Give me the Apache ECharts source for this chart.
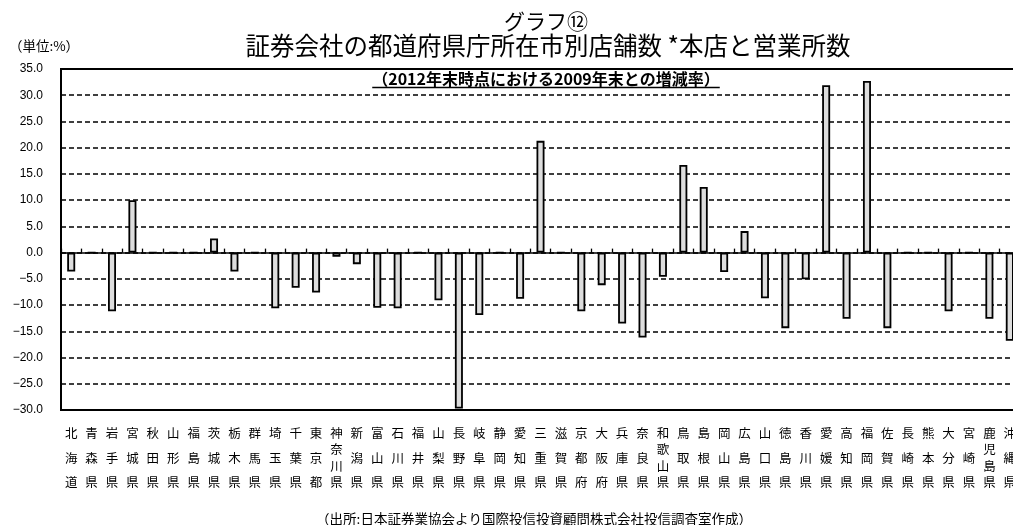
<!DOCTYPE html>
<html>
<head>
<meta charset="utf-8">
<script src="https://cdn.jsdelivr.net/npm/echarts@6/dist/echarts.min.js"></script>
<style>
  html, body { margin: 0; padding: 0; background: #fff; }
  #chart { width: 1013px; height: 525px; }
</style>
</head>
<body>
<div id="chart"></div>
<script>
// 都道府県（県庁所在市）
const prefectures = [
  '北海道', '青森県', '岩手県', '宮城県', '秋田県', '山形県', '福島県', '茨城県',
  '栃木県', '群馬県', '埼玉県', '千葉県', '東京都', '神奈川県', '新潟県', '富山県',
  '石川県', '福井県', '山梨県', '長野県', '岐阜県', '静岡県', '愛知県', '三重県',
  '滋賀県', '京都府', '大阪府', '兵庫県', '奈良県', '和歌山県', '鳥取県', '島根県',
  '岡山県', '広島県', '山口県', '徳島県', '香川県', '愛媛県', '高知県', '福岡県',
  '佐賀県', '長崎県', '熊本県', '大分県', '宮崎県', '鹿児島県', '沖縄県'
];

// 増減率（%）：2012年末の店舗数の2009年末比
const changeRates = [
  -3.6, 0, -11.2, 10.0, 0, 0, 0, 2.7,
  -3.6, 0, -10.6, -6.7, -7.6, -0.8, -2.2, -10.5,
  -10.6, 0, -9.1, -29.7, -11.9, 0, -8.8, 21.3,
  0, -11.2, -6.2, -13.5, -16.2, -4.6, 16.7, 12.5,
  -3.7, 4.1, -8.7, -14.4, -5.1, 31.9, -12.6, 32.7,
  -14.4, 0, 0, -11.2, 0, -12.6, -16.8
];

const yMin = -30;
const yMax = 35;
const yStep = 5;

const titleMain = 'グラフ⑫';
const titleSub = '証券会社の都道府県庁所在市別店舗数 *本店と営業所数';
const subtitle = '（2012年末時点における2009年末との増減率）';
const unitLabel = '（単位:%）';
const sourceNote = '（出所:日本証券業協会より国際投信投資顧問株式会社投信調査室作成）';

const JP = "'Noto Sans CJK JP', 'Noto Sans', sans-serif";
const NUM = "'Liberation Sans', Arial, sans-serif";

// vertical (one character per line) category labels
function verticalLabel(name) {
  const chars = Array.from(name);
  if (chars.length <= 3) {
    return chars.map(c => '{a|' + c + '}').join('\n');
  }
  // four-character names: squeeze the middle characters
  return chars.map((c, i) => (i % 2 === 0 ? '{a|' : '{b|') + c + '}').join('\n');
}

// underline width follows the rendered subtitle text
const subFont = 'bold 16px ' + JP;
const ctx = document.createElement('canvas').getContext('2d');
ctx.font = subFont;
const subWidth = ctx.measureText(subtitle).width;
const subCenterX = 546;

const chart = echarts.init(document.getElementById('chart'), null, { renderer: 'canvas' });

chart.setOption({
  backgroundColor: '#ffffff',
  animation: false,
  grid: {
    left: 61, top: 69, width: 959, height: 341,
    outerBoundsMode: 'none',
    containLabel: false,
    show: true, borderColor: '#000', borderWidth: 2, backgroundColor: 'transparent'
  },
  xAxis: [
    {
      type: 'category',
      data: prefectures,
      position: 'bottom',
      axisLine: { onZero: true, lineStyle: { color: '#000', width: 1.6 } },
      axisTick: { show: true, inside: true, length: 4, interval: 0, lineStyle: { color: '#000', width: 1.3 } },
      axisLabel: { show: false },
      splitLine: { show: false }
    },
    {
      type: 'category',
      data: prefectures,
      position: 'bottom',
      axisLine: { show: false, onZero: false },
      axisTick: { show: false },
      splitLine: { show: false },
      axisLabel: {
        interval: 0,
        margin: 11,
        formatter: verticalLabel,
        rich: {
          a: { fontFamily: JP, fontSize: 12.5, lineHeight: 24.5, color: '#000', align: 'center' },
          b: { fontFamily: JP, fontSize: 12.5, lineHeight: 8.2, color: '#000', align: 'center' }
        }
      }
    }
  ],
  yAxis: {
    type: 'value',
    min: yMin,
    max: yMax,
    interval: yStep,
    axisLine: { show: true, lineStyle: { color: '#000', width: 2 } },
    axisTick: { show: false },
    axisLabel: {
      margin: 18,
      color: '#000',
      fontFamily: NUM,
      fontSize: 12,
      formatter: v => v.toFixed(1).replace('-', '−')
    },
    splitLine: { show: true, lineStyle: { color: '#000', width: 1.5, type: [5, 3] } }
  },
  series: [{
    type: 'bar',
    xAxisIndex: 0,
    data: changeRates,
    barWidth: 8,
    itemStyle: { color: '#dddddd', borderColor: '#000', borderWidth: 1.8 }
  }],
  graphic: [
    { type: 'text', x: 546, y: 21, style: { text: titleMain, font: '21px ' + JP, fill: '#000', textAlign: 'center', textVerticalAlign: 'middle' } },
    { type: 'text', x: 548, y: 46, style: { text: titleSub, font: '24.5px ' + JP, fill: '#000', textAlign: 'center', textVerticalAlign: 'middle' } },
    { type: 'text', x: 44, y: 46, style: { text: unitLabel, font: '13.5px ' + JP, fill: '#000', textAlign: 'center', textVerticalAlign: 'middle' } },
    { type: 'text', x: subCenterX, y: 79, z: 10, style: { text: subtitle, font: subFont, fill: '#000', textAlign: 'center', textVerticalAlign: 'middle' } },
    { type: 'line', z: 10, shape: { x1: subCenterX - subWidth / 2, y1: 87.5, x2: subCenterX + subWidth / 2, y2: 87.5 }, style: { stroke: '#000', lineWidth: 1.5 } },
    { type: 'text', x: 534, y: 519, style: { text: sourceNote, font: '13.5px ' + JP, fill: '#000', textAlign: 'center', textVerticalAlign: 'middle' } }
  ]
});
</script>
</body>
</html>
